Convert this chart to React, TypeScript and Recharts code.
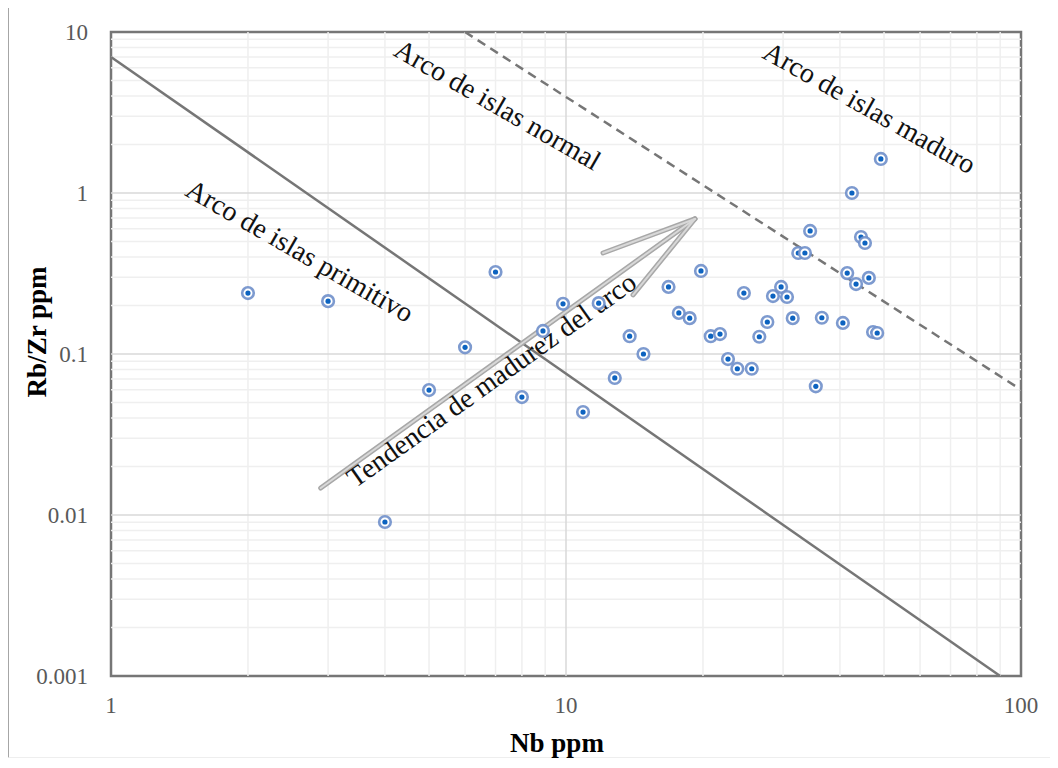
import {
  ScatterChart,
  Scatter,
  XAxis,
  YAxis,
  ReferenceLine,
  ReferenceArea,
  ReferenceDot,
} from 'recharts';

// Nb (ppm) and Rb/Zr of each sample
const nb = [
  2, 3, 4, 5, 6, 7, 8, 8.9, 9.85, 10.9, 11.8, 12.8, 13.8, 14.8, 16.8, 17.7, 18.7, 19.8, 20.8, 21.8, 22.7, 23.8,
  24.6, 25.6, 26.6, 27.7, 28.5, 29.7, 30.6, 31.5, 32.4, 33.5, 34.4, 35.4, 36.5, 40.6, 41.5, 42.5, 43.4, 44.5,
  45.4, 46.3, 47.3, 48.3, 49.2,
];
const rbZr = [
  0.239, 0.213, 0.00905, 0.0597, 0.11, 0.323, 0.054, 0.139, 0.205, 0.0436, 0.207, 0.071, 0.129, 0.1, 0.261,
  0.18, 0.167, 0.328, 0.129, 0.133, 0.093, 0.081, 0.239, 0.081, 0.128, 0.158, 0.229, 0.261, 0.226, 0.167, 0.424,
  0.424, 0.581, 0.063, 0.168, 0.156, 0.318, 1.0, 0.272, 0.533, 0.489, 0.297, 0.137, 0.135, 1.627,
];

const xTicks = [1, 10, 100];
const yTicks = [0.001, 0.01, 0.1, 1, 10];

// field boundaries and trend arrow
const primitiveLine = [
  { x: 1, y: 7 },
  { x: 90, y: 0.001 },
];
const matureLine = [
  { x: 6, y: 10 },
  { x: 100, y: 0.06 },
];
const arrowStart = { x: 2.89, y: 0.0147 };
const arrowTip = { x: 19.2, y: 0.69 };
const arrowWings = [
  { x: 12.06, y: 0.424 },
  { x: 14.04, y: 0.233 },
];

const notes = [
  { text: 'Arco de islas normal', x: 6.91, y: 3.14, angle: 30 },
  { text: 'Arco de islas maduro', x: 45.4, y: 3.01, angle: 29.5 },
  { text: 'Arco de islas primitivo', x: 2.54, y: 0.389, angle: 30 },
  { text: 'Tendencia de madurez del arco', x: 7.05, y: 0.062, angle: -35.5 },
];

const data = nb.map((v, i) => ({ nb: v, rbZr: rbZr[i] }));

const decades = [1, 10];
const xMinor = decades.flatMap((d) => [2, 3, 4, 5, 6, 7, 8, 9].map((k) => k * d));
const yMinor = [0.001, 0.01, 0.1, 1].flatMap((d) => [2, 3, 4, 5, 6, 7, 8, 9].map((k) => +(k * d).toPrecision(3)));
const xMajor = [10];
const yMajor = [0.01, 0.1, 1];

const serif = '"Liberation Serif", "Times New Roman", serif';

const XTick = ({ x, y, payload }: any) => (
  <text x={x} y={y + 37} textAnchor="middle" fill="#595959" fontSize={23} fontFamily={serif}>
    {payload.value}
  </text>
);

const YTick = ({ x, y, payload }: any) => (
  <text x={x - 23} y={y + 8} textAnchor="end" fill="#595959" fontSize={23} fontFamily={serif}>
    {payload.value}
  </text>
);

const XTitle = ({ viewBox }: any) => (
  <text
    x={viewBox.x + viewBox.width / 2 - 9}
    y={viewBox.y + 76}
    textAnchor="middle"
    fontSize={27}
    fontWeight="bold"
    fontFamily={serif}
    fill="#000"
  >
    Nb ppm
  </text>
);

const YTitle = ({ viewBox }: any) => {
  const cx = viewBox.x + 29;
  const cy = viewBox.y + viewBox.height / 2 - 22;
  return (
    <text
      x={cx}
      y={cy}
      transform={`rotate(-90 ${cx} ${cy})`}
      textAnchor="middle"
      dominantBaseline="central"
      fontSize={27}
      fontWeight="bold"
      fontFamily={serif}
      fill="#000"
    >
      Rb/Zr ppm
    </text>
  );
};

const Marker = ({ cx, cy }: any) => (
  <g>
    <circle cx={cx} cy={cy} r={5.8} fill="#fff" stroke="#6F8FCA" strokeOpacity={0.9} strokeWidth={2.6} />
    <circle cx={cx} cy={cy} r={2.6} fill="#0D63C0" />
  </g>
);

const App = () => {
  return (
    <div style={{ position: 'relative', width: 1040, height: 752 }}>
      <div
        style={{
          position: 'absolute',
          left: -1,
          top: -3,
          width: 1048,
          height: 750,
          borderLeft: '2px solid #A6A6A6',
          borderTop: '2px solid #A6A6A6',
          borderBottom: '1px solid #EEEEEE',
        }}
      />
      <ScatterChart width={1040} height={752} margin={{ top: 24, right: 27, left: 0, bottom: 0 }}>
        <XAxis
          type="number"
          dataKey="nb"
          scale="log"
          domain={[1, 100]}
          ticks={xTicks}
          allowDataOverflow
          axisLine={false}
          tickLine={false}
          tickSize={0}
          tickMargin={0}
          height={84}
          tick={<XTick />}
          label={<XTitle />}
        />
        <YAxis
          type="number"
          dataKey="rbZr"
          scale="log"
          domain={[0.001, 10]}
          ticks={yTicks}
          allowDataOverflow
          axisLine={false}
          tickLine={false}
          tickSize={0}
          tickMargin={0}
          width={103}
          tick={<YTick />}
          label={<YTitle />}
        />

        {/* minor and major grid */}
        {xMinor.map((v) => (
          <ReferenceLine key={'xm' + v} x={v} stroke="#EFEFEF" strokeWidth={1.5} />
        ))}
        {yMinor.map((v) => (
          <ReferenceLine key={'ym' + v} y={v} stroke="#EFEFEF" strokeWidth={1.5} />
        ))}
        {xMajor.map((v) => (
          <ReferenceLine key={'xM' + v} x={v} stroke="#D9D9D9" strokeWidth={1.5} />
        ))}
        {yMajor.map((v) => (
          <ReferenceLine key={'yM' + v} y={v} stroke="#D9D9D9" strokeWidth={1.5} />
        ))}
        <ReferenceArea x1={1} x2={100} y1={0.001} y2={10} fill="none" stroke="#767676" strokeWidth={2.5} />

        {/* boundaries */}
        <ReferenceLine segment={primitiveLine} stroke="#767676" strokeWidth={2.5} />
        <ReferenceLine segment={matureLine} stroke="#767676" strokeWidth={2.5} strokeDasharray="9 6" />

        {/* trend arrow */}
        <ReferenceLine segment={[arrowStart, arrowTip]} stroke="#A8A8A8" strokeWidth={5} strokeLinecap="round" />
        {arrowWings.map((w, i) => (
          <ReferenceLine key={'wo' + i} segment={[w, arrowTip]} stroke="#A8A8A8" strokeWidth={5} strokeLinecap="round" />
        ))}
        <ReferenceLine segment={[arrowStart, arrowTip]} stroke="#D8D8D8" strokeWidth={2} strokeLinecap="round" />
        {arrowWings.map((w, i) => (
          <ReferenceLine key={'wi' + i} segment={[w, arrowTip]} stroke="#D8D8D8" strokeWidth={2} strokeLinecap="round" />
        ))}

        {/* field names */}
        {notes.map((n) => (
          <ReferenceDot
            key={n.text}
            x={n.x}
            y={n.y}
            r={0}
            shape={(p: any) => (
              <text
                x={p.cx}
                y={p.cy}
                transform={`rotate(${n.angle} ${p.cx} ${p.cy})`}
                textAnchor="middle"
                fontSize={28}
                fontFamily={serif}
                fill="#111"
              >
                {n.text}
              </text>
            )}
          />
        ))}

        <Scatter data={data} shape={<Marker />} isAnimationActive={false} />
      </ScatterChart>
    </div>
  );
};

export default App;
